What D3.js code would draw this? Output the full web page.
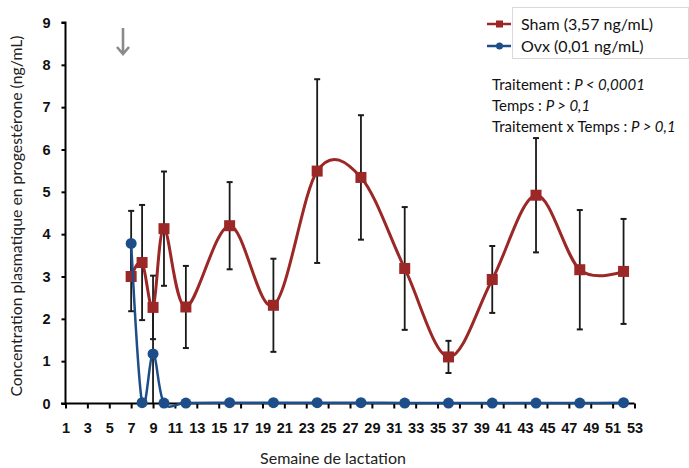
<!DOCTYPE html>
<html>
<head>
<meta charset="utf-8">
<script src="https://cdn.jsdelivr.net/npm/d3@7"></script>
<style>
  html, body { margin: 0; padding: 0; background: #fff; }
  svg { display: block; font-family: Lato, "Open Sans", sans-serif; }
</style>
</head>
<body>
<svg id="chart" width="689" height="468"></svg>
<script>
// Weeks of lactation at which plasma progesterone was sampled
const weeks = [7, 8, 9, 10, 12, 16, 20, 24, 28, 32, 36, 40, 44, 48, 52];

// Sham group: mean and SEM (ng/mL)
const shamMean = [3.0, 3.33, 2.27, 4.13, 2.28, 4.2, 2.32, 5.49, 5.34, 3.19, 1.1, 2.93, 4.92, 3.16, 3.12];
const shamSem  = [0.82, 1.36, 0.75, 1.35, 0.97, 1.03, 1.1, 2.17, 1.47, 1.45, 0.38, 0.79, 1.35, 1.41, 1.24];

// Ovx group: mean and SEM (ng/mL)
const ovxMean = [3.78, 0.02, 1.17, 0.01, 0.01, 0.02, 0.02, 0.02, 0.02, 0.01, 0.01, 0.01, 0.01, 0.01, 0.02];
const ovxSem  = [0.77, 0.01, 1.2, 0.0, 0.0, 0.0, 0.0, 0.0, 0.0, 0.0, 0.0, 0.0, 0.0, 0.0, 0.0];

// Axis ticks
const xTicks = d3.range(1, 54, 2);
const yTicks = [0, 1, 2, 3, 4, 5, 6, 7, 8, 9];

// Legend and statistics text
const seriesNames = ["Sham (3,57 ng/mL)", "Ovx (0,01 ng/mL)"];
const statLines = [
  ["Traitement : ", "P < 0,0001"],
  ["Temps : ", "P > 0,1"],
  ["Traitement x Temps : ", "P > 0,1"]
];

const RED = "#9b2726";
const BLUE = "#1d4e89";

const svg = d3.select("#chart");

const x = d3.scaleLinear().domain([1, 53]).range([65.5, 634.5]);
const y = d3.scaleLinear().domain([0, 9]).range([403.5, 22.5]);

// Error bars (drawn first, beneath the series lines)
function errorBars(means, sems) {
  const g = svg.append("g").attr("stroke", "#1a1a1a").attr("stroke-width", 1.8);
  weeks.forEach((w, i) => {
    if (sems[i] <= 0) return;
    const lo = Math.max(0, means[i] - sems[i]);
    const hi = means[i] + sems[i];
    const cx = x(w);
    g.append("line").attr("x1", cx).attr("x2", cx).attr("y1", y(lo)).attr("y2", y(hi));
    g.append("line").attr("x1", cx - 3).attr("x2", cx + 3).attr("y1", y(hi)).attr("y2", y(hi)).attr("stroke-width", 2);
    if (lo > 0) {
      g.append("line").attr("x1", cx - 3).attr("x2", cx + 3).attr("y1", y(lo)).attr("y2", y(lo)).attr("stroke-width", 2);
    }
  });
}
errorBars(shamMean, shamSem);
errorBars(ovxMean, ovxSem);

// Axes
const yAxis = d3.axisLeft(y).tickValues(yTicks).tickSize(4).tickPadding(11).tickFormat(d3.format("d"));
const yg = svg.append("g").attr("transform", "translate(65.5,0)").call(yAxis);
yg.select(".domain").attr("stroke", "#000").attr("stroke-width", 2).attr("d", `M-4,${y(9)}H0V${y(0) + 1}`);
yg.selectAll(".tick line").attr("stroke", "#000").attr("stroke-width", 2);
yg.selectAll(".tick text").attr("font-size", 14.5).attr("font-weight", "bold").attr("fill", "#111");

const xAxis = d3.axisBottom(x).tickValues(xTicks).tickSize(5).tickPadding(14).tickFormat(d3.format("d"));
const xg = svg.append("g").attr("transform", "translate(0,403.5)").call(xAxis);
xg.select(".domain").attr("stroke", "#000").attr("stroke-width", 2).attr("d", `M61,0H${x(53)}`);
xg.selectAll(".tick line").attr("stroke", "#000").attr("stroke-width", 2);
xg.selectAll(".tick text").attr("font-size", 14.5).attr("font-weight", "bold").attr("fill", "#111");

// Smoothed series lines
const line = d3.line().x(d => x(d[0])).y(d => y(d[1])).curve(d3.curveCardinal.tension(0));
const shamPts = weeks.map((w, i) => [w, shamMean[i]]);
const ovxPts = weeks.map((w, i) => [w, ovxMean[i]]);

svg.append("path").datum(shamPts).attr("d", line)
  .attr("fill", "none").attr("stroke", RED).attr("stroke-width", 3);
svg.selectAll("rect.sham").data(shamPts).join("rect").attr("class", "sham")
  .attr("x", d => x(d[0]) - 5.5).attr("y", d => y(d[1]) - 5.5)
  .attr("width", 11).attr("height", 11).attr("fill", RED);

svg.append("path").datum(ovxPts).attr("d", line)
  .attr("fill", "none").attr("stroke", BLUE).attr("stroke-width", 2.5);
svg.selectAll("circle.ovx").data(ovxPts).join("circle").attr("class", "ovx")
  .attr("cx", d => x(d[0])).attr("cy", d => y(d[1])).attr("r", 5.5).attr("fill", BLUE);

// Axis titles
svg.append("text").attr("x", 333).attr("y", 464).attr("text-anchor", "middle")
  .attr("font-size", 16).attr("fill", "#222").text("Semaine de lactation");
svg.append("text").attr("transform", "translate(22,216) rotate(-90)").attr("text-anchor", "middle")
  .attr("font-size", 15.8).attr("fill", "#222")
  .text("Concentration plasmatique en progestérone (ng/mL)");

// Gray arrow marking the start of treatment
svg.append("path")
  .attr("d", "M123,28V54M117,47L123,54L129,47")
  .attr("fill", "none").attr("stroke", "#8a8a8a").attr("stroke-width", 2.6)
  .attr("stroke-linejoin", "miter");

// Legend
svg.append("rect").attr("x", 512.5).attr("y", 7.5).attr("width", 176).attr("height", 51)
  .attr("fill", "#fff").attr("stroke", "#d9d9d9");
const legendRows = [
  { name: seriesNames[0], color: RED, shape: "square", ly: 24 },
  { name: seriesNames[1], color: BLUE, shape: "circle", ly: 46 }
];
legendRows.forEach(r => {
  svg.append("line").attr("x1", 487).attr("x2", 511).attr("y1", r.ly).attr("y2", r.ly)
    .attr("stroke", r.color).attr("stroke-width", 2.5);
  if (r.shape === "square") {
    svg.append("rect").attr("x", 496).attr("y", r.ly - 3.5).attr("width", 7).attr("height", 7).attr("fill", r.color);
  } else {
    svg.append("circle").attr("cx", 499.5).attr("cy", r.ly).attr("r", 3.5).attr("fill", r.color);
  }
  svg.append("text").attr("x", 521).attr("y", r.ly + 5.5).attr("font-size", 16).attr("fill", "#111").text(r.name);
});

// Statistics annotation
statLines.forEach((s, i) => {
  const t = svg.append("text").attr("x", 492).attr("y", 90 + i * 21).attr("font-size", 15).attr("fill", "#111");
  t.append("tspan").text(s[0]);
  t.append("tspan").attr("font-style", "italic").text(s[1]);
});
</script>
</body>
</html>
